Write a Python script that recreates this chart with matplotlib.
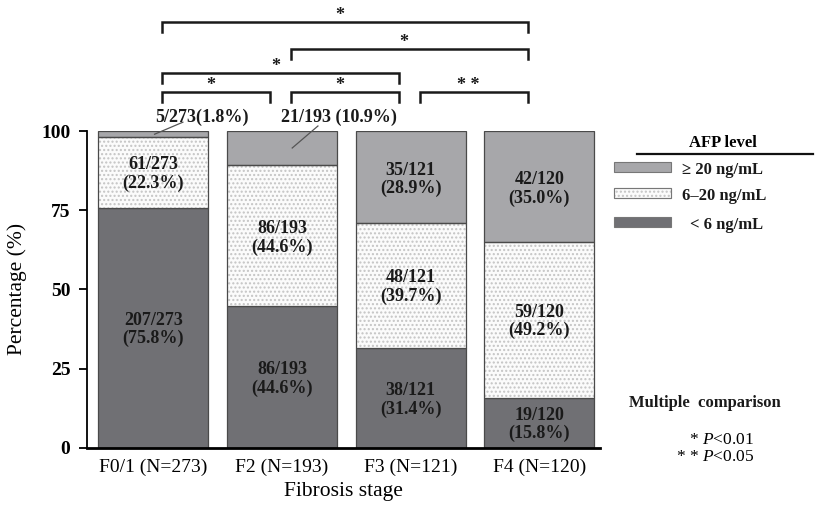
import matplotlib.pyplot as plt
from matplotlib.patches import Rectangle

plt.rcParams['font.family'] = ['Liberation Serif', 'DejaVu Serif']
plt.rcParams['mathtext.fontset'] = 'custom'
plt.rcParams['mathtext.rm'] = 'Liberation Serif'
plt.rcParams['mathtext.it'] = 'Liberation Serif:italic'

# --- DATA ---
stages = ["F0/1 (N=273)", "F2 (N=193)", "F3 (N=121)", "F4 (N=120)"]
totals = [273, 193, 121, 120]
n_low = [207, 86, 38, 19]       # < 6 ng/mL
n_mid = [61, 86, 48, 59]        # 6-20 ng/mL
n_high = [5, 21, 35, 42]        # >= 20 ng/mL
pct_low = [75.8, 44.6, 31.4, 15.8]
pct_mid = [22.3, 44.6, 39.7, 49.2]
pct_high = [1.8, 10.9, 28.9, 35.0]

# pairwise comparisons: (group a, group b, mark, bracket height)
comparisons = [(0, 3, "*", 134.3), (1, 3, "*", 125.9), (0, 2, "*", 118.2),
               (0, 1, "*", 112.2), (1, 2, "*", 112.2), (2, 3, "* *", 112.2)]

C_LOW = "#707074"
C_MID = "#fbfbfb"
C_HIGH = "#a7a7aa"
C_EDGE = "#4a4a4a"

fig = plt.figure(figsize=(8.17, 5.07), dpi=100)
ax = fig.add_axes([0.1065, 0.117, 0.6275, 0.6245])

x = list(range(len(stages)))
width = 0.855
bottom_mid = pct_low
bottom_high = [a + b for a, b in zip(pct_low, pct_mid)]

ax.bar(x, pct_low, width, color=C_LOW, edgecolor=C_EDGE, linewidth=0.9, zorder=2)
# dotted fill for the middle band, then its outline on top
ax.bar(x, pct_mid, width, bottom=bottom_mid, color=C_MID, edgecolor="#c4c4c4",
       hatch="....", linewidth=0, zorder=2)
ax.bar(x, pct_mid, width, bottom=bottom_mid, fill=False, edgecolor=C_EDGE,
       linewidth=0.9, zorder=3)
ax.bar(x, pct_high, width, bottom=bottom_high, color=C_HIGH, edgecolor=C_EDGE,
       linewidth=0.9, zorder=2)

lab_kw = dict(ha="center", va="center", fontsize=13, fontweight="bold",
              color="#1a1a1a", linespacing=1.1, zorder=4)
for i in x:
    ax.text(i, pct_low[i] / 2 - 0.6, f"{n_low[i]}/{totals[i]}\n({pct_low[i]:.1f}%)", **lab_kw)
    ax.text(i, bottom_mid[i] + pct_mid[i] / 2 - 0.6,
            f"{n_mid[i]}/{totals[i]}\n({pct_mid[i]:.1f}%)", **lab_kw)
    if pct_high[i] > 20:
        ax.text(i, bottom_high[i] + pct_high[i] / 2 - 0.8,
                f"{n_high[i]}/{totals[i]}\n({pct_high[i]:.1f}%)", **lab_kw)

# small top segments labelled outside the bars
for i, (tx, ty) in zip([0, 1], [(0.23, 102.8), (1.28, 101.6)]):
    px = i + 0.01 if i == 0 else i + 0.08
    py = bottom_high[i] + pct_high[i] / 2 if i == 1 else bottom_high[i] + 0.9
    ax.plot([px, tx], [py, ty], color="#555555", lw=0.9, clip_on=False, zorder=4)
ax.text(0.38, 104.3, f"{n_high[0]}/{totals[0]}({pct_high[0]:.1f}%)", ha="center",
        va="center", fontsize=13, fontweight="bold", color="#1a1a1a")
ax.text(1.44, 104.3, f"{n_high[1]}/{totals[1]} ({pct_high[1]:.1f}%)", ha="center",
        va="center", fontsize=13, fontweight="bold", color="#1a1a1a")

# significance brackets
for a, b, mark, h in comparisons:
    x0, x1 = a + 0.07, b - 0.09
    ax.plot([x0, x0, x1, x1], [h - 3.0, h, h, h - 3.0], color="#1a1a1a",
            lw=1.8, clip_on=False, solid_joinstyle="miter")
    ax.text((x0 + x1) / 2 - 0.04, h - 0.6, mark, ha="center", va="bottom",
            fontsize=13, fontweight="bold", color="#1a1a1a")

ax.set_xlim(-0.515, 3.47)
ax.set_ylim(0, 100)
ax.set_xticks(x)
ax.set_xticklabels(stages, fontsize=14)
ax.set_yticks([0, 25, 50, 75, 100])
ax.tick_params(axis="x", length=0, pad=8)
ax.tick_params(axis="y", length=6, width=1.3, pad=6, labelsize=14)
for lab in ax.get_yticklabels():
    lab.set_fontweight("bold")
ax.spines["top"].set_visible(False)
ax.spines["right"].set_visible(False)
ax.spines["left"].set_linewidth(1.3)
ax.spines["bottom"].set_linewidth(2.0)
ax.set_ylabel("Percentage (%)", fontsize=15.5, labelpad=10)
ax.set_xlabel("Fibrosis stage", fontsize=15.5, labelpad=4)

# legend drawn in figure pixels
W, H = 817, 507
def fx(px):
    return px / W
def fy(py):
    return 1 - py / H

fig.text(fx(723), fy(143), "AFP level", ha="center", va="center",
         fontsize=12, fontweight="bold")
fig.add_artist(plt.Line2D([fx(637), fx(813)], [fy(154), fy(154)], color="#111111", lw=1.6))
legend_rows = [("\u2265 20 ng/mL", C_HIGH, None, 167),
               ("6\u201320 ng/mL", C_MID, "....", 193),
               ("< 6 ng/mL", C_LOW, None, 222)]
for label, col, hatch, cy in legend_rows:
    fig.add_artist(Rectangle((fx(614), fy(cy + 5)), fx(57), 10 / H, facecolor=col,
                             edgecolor="#c4c4c4" if hatch else "#777777",
                             hatch=hatch, lw=0.8, transform=fig.transFigure))
    if hatch:
        fig.add_artist(Rectangle((fx(614), fy(cy + 5)), fx(57), 10 / H, fill=False,
                                 edgecolor="#777777", lw=0.8, transform=fig.transFigure))
    tx = 690 if label.startswith("<") else 682
    fig.text(fx(tx), fy(cy + 3), label, ha="left", va="center",
             fontsize=12, fontweight="bold", color="#1a1a1a")

fig.text(fx(705), fy(403), "Multiple  comparison", ha="center", va="center",
         fontsize=12, fontweight="bold", color="#1a1a1a")
fig.text(fx(754), fy(440), "* $\\it{P}$<0.01", ha="right", va="center", fontsize=12.5)
fig.text(fx(754), fy(457), "* * $\\it{P}$<0.05", ha="right", va="center", fontsize=12.5)

fig.savefig("out.png", dpi=100)
